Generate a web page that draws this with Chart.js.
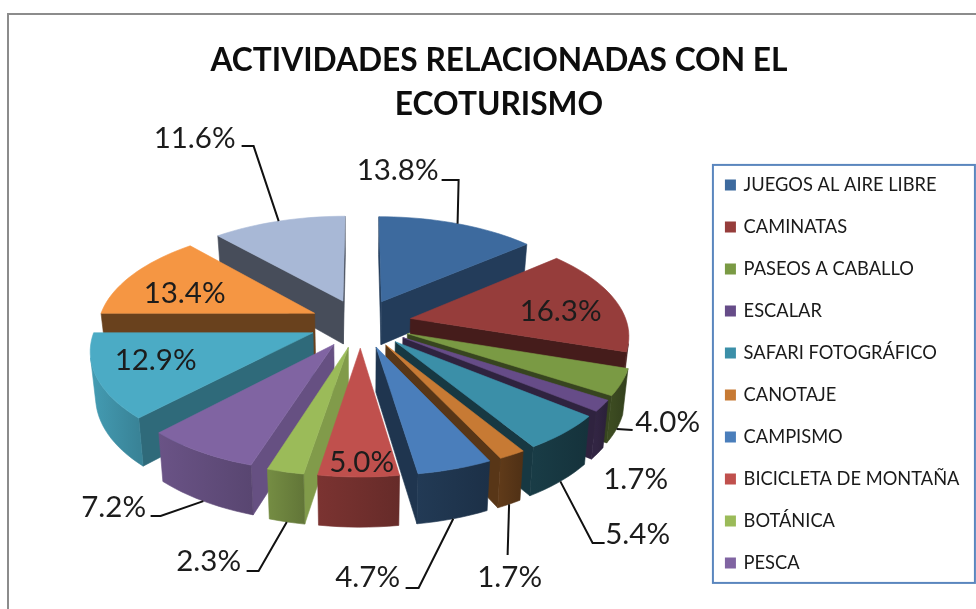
<!DOCTYPE html>
<html>
<head>
<meta charset="utf-8">
<script src="https://cdn.jsdelivr.net/npm/chart.js@4"></script>
<style>
  html, body { margin: 0; padding: 0; width: 976px; height: 609px; overflow: hidden; background: #fff; }
  #frame { position: absolute; left: 7px; top: 13px; width: 1100px; height: 700px; border: 2px solid #8c8c8c; }
  #grafico { position: absolute; left: 8px; top: 14px; }
</style>
</head>
<body>
<div id="frame"></div>
<canvas id="grafico" width="976" height="595"></canvas>
<script>
const categorias = ["JUEGOS AL AIRE LIBRE", "CAMINATAS", "PASEOS A CABALLO", "ESCALAR", "SAFARI FOTOGRÁFICO",
  "CANOTAJE", "CAMPISMO", "BICICLETA DE MONTAÑA", "BOTÁNICA", "PESCA", "ACAMPAR", "SENDERISMO", "OTROS"];
const valores = [13.8, 16.3, 4.0, 1.7, 5.4, 1.7, 4.7, 5.0, 2.3, 7.2, 12.9, 13.4, 11.6];
const colores = ["#3d6a9e", "#963d3b", "#7a9a44", "#664c88", "#3b8fa8", "#c77a34", "#4a7ebb",
  "#c0504d", "#9bbb59", "#8064a2", "#4babc5", "#f59643", "#a8b8d6"];

// cuanto se oscurece cada cara lateral
const sombraRadial = [.57, .46, .45, .46, .39, .44, .42, .6, .83, .8, .62, .43, .42];
const sombraExterior = [.57, .46, .46, .46, .39, .44, .42, .58, .68, .74, .8, .43, .42];

// vista 3D del pastel (px)
const vista = { radio: 216.5, alto: 102.7, perspectiva: .142, separacion: .236, fondo: 44, fondoV: 5, encoge: .02, dx: -5, dy: -51 };

// posicion de etiquetas respecto al centro del pastel; guia = codo y final de la linea
const etiquetas = [
  { x: 37, y: -153, guia: [[98, -143], [81, -143]] },
  { x: 200, y: -12 },
  { x: 307, y: 99, guia: [[272, 107]], abajo: true },
  { x: 275, y: 156 },
  { x: 277, y: 211, guia: [[232, 220], [244, 220]], abajo: true },
  { x: 149, y: 254, guia: [[147, 232]], abajo: true },
  { x: 7, y: 254, guia: [[58, 265], [45, 265]], abajo: true },
  { x: 1, y: 139 },
  { x: -152, y: 238, guia: [[-102, 248], [-114, 248]], abajo: true },
  { x: -247, y: 184, guia: [[-200, 193], [-210, 193]], abajo: true },
  { x: -205, y: 37 },
  { x: -176, y: -30 },
  { x: -166, y: -185, guia: [[-107, -177], [-119, -177]] }
];

function sombra(hex, f) {
  const n = parseInt(hex.slice(1), 16);
  const c = [n >> 16, (n >> 8) & 255, n & 255].map(v => Math.min(255, Math.round(v * f)));
  return `rgb(${c[0]},${c[1]},${c[2]})`;
}

function cuadro(ctx, pts, color) {
  ctx.beginPath();
  pts.forEach((p, i) => i ? ctx.lineTo(p[0], p[1]) : ctx.moveTo(p[0], p[1]));
  ctx.closePath();
  ctx.fillStyle = color;
  ctx.strokeStyle = color;
  ctx.lineWidth = .6;
  ctx.fill();
  ctx.stroke();
}

function area(pts) {
  let a = 0;
  pts.forEach((p, i) => {
    const q = pts[(i + 1) % pts.length];
    a += p[0] * q[1] - q[0] * p[1];
  });
  return a;
}

const pastel3d = {
  id: "pastel3d",
  beforeDatasetsDraw(chart) {
    const ctx = chart.ctx;
    const arcos = chart.getDatasetMeta(0).data;
    const cx = arcos[0].x + vista.dx;
    const cy = arcos[0].y + vista.dy;

    const proyectar = (u, v, w) => {
      const s = 1 / (1 - vista.perspectiva * v);
      return [
        cx + u * vista.radio * s * (1 - vista.encoge * w),
        cy + v * vista.alto * s + w * (vista.fondo + vista.fondoV * v)
      ];
    };

    const pared = (a, b) => [proyectar(a[0], a[1], 0), proyectar(b[0], b[1], 0), proyectar(b[0], b[1], 1), proyectar(a[0], a[1], 1)];

    const porciones = arcos.map((arco, i) => {
      const medio = (arco.startAngle + arco.endAngle) / 2;
      return { arco, i, medio, ox: vista.separacion * Math.cos(medio), oy: vista.separacion * Math.sin(medio) };
    });

    // de atras hacia adelante
    [...porciones].sort((a, b) => Math.sin(a.medio) - Math.sin(b.medio)).forEach(p => {
      const pasos = Math.max(4, Math.ceil((p.arco.endAngle - p.arco.startAngle) / .04));
      const borde = [];
      for (let k = 0; k <= pasos; k++) {
        const a = p.arco.startAngle + (p.arco.endAngle - p.arco.startAngle) * k / pasos;
        borde.push([p.ox + Math.cos(a), p.oy + Math.sin(a)]);
      }
      const vertice = [p.ox, p.oy];
      const oscuro = sombra(colores[p.i], sombraRadial[p.i]);

      [pared(vertice, borde[0]), pared(borde[pasos], vertice)].forEach(pts => {
        if (area(pts) < 0) cuadro(ctx, pts, oscuro);
      });

      // pared exterior en una sola pieza, con degradado horizontal suave
      const visibles = [];
      for (let k = 0; k < pasos; k++) {
        if (area(pared(borde[k], borde[k + 1])) < 0) {
          if (!visibles.length) visibles.push(borde[k]);
          visibles.push(borde[k + 1]);
        }
      }
      if (visibles.length) {
        const arriba = visibles.map(q => proyectar(q[0], q[1], 0));
        const abajo = visibles.map(q => proyectar(q[0], q[1], 1)).reverse();
        const xs = arriba.map(q => q[0]);
        const degradado = ctx.createLinearGradient(Math.min(...xs), 0, Math.max(...xs), 0);
        const lado = Math.cos(p.medio);
        degradado.addColorStop(0, sombra(colores[p.i], sombraExterior[p.i] * (1.1 - .04 * lado)));
        degradado.addColorStop(1, sombra(colores[p.i], sombraExterior[p.i] * (.92 - .04 * lado)));
        cuadro(ctx, [...arriba, ...abajo], degradado);
      }

      const tapa = [vertice, ...borde].map(q => proyectar(q[0], q[1], 0));
      cuadro(ctx, tapa, colores[p.i]);
    });

    // etiquetas y lineas guia
    ctx.font = "29.5px Lato";
    ctx.textAlign = "center";
    ctx.textBaseline = "middle";
    porciones.forEach(p => {
      const e = etiquetas[p.i];
      if (e.guia) {
        const q = proyectar(p.ox + Math.cos(p.medio), p.oy + Math.sin(p.medio), e.abajo ? 1 : 0);
        ctx.beginPath();
        ctx.moveTo(q[0], q[1]);
        e.guia.forEach(g => ctx.lineTo(cx + g[0], cy + g[1]));
        ctx.strokeStyle = "#111";
        ctx.lineWidth = 2;
        ctx.stroke();
      }
      ctx.fillStyle = "#1c1c1c";
      ctx.fillText(valores[p.i].toFixed(1) + "%", cx + e.x, cy + e.y);
    });
    return false;
  },
  afterDraw(chart) {
    const caja = chart.legend.legendHitBoxes;
    const ctx = chart.ctx;
    ctx.strokeStyle = "#5a86be";
    ctx.lineWidth = 2;
    ctx.strokeRect(caja[0].left - 13.5, caja[0].top - 11, 262, 418);
  }
};

new Chart(document.getElementById("grafico"), {
  type: "pie",
  data: {
    labels: categorias,
    datasets: [{ data: valores, backgroundColor: colores, borderWidth: 0 }]
  },
  options: {
    responsive: false,
    animation: false,
    layout: { padding: { left: 20.5, right: 14.5, bottom: 5 } },
    plugins: {
      tooltip: { enabled: false },
      title: {
        display: true,
        text: ["ACTIVIDADES RELACIONADAS CON EL", "ECOTURISMO"],
        color: "#0d0d0d",
        font: { family: "Lato", size: 31.7, weight: "bold", lineHeight: 1.39 },
        padding: { top: 25, bottom: 17 }
      },
      legend: {
        position: "right",
        fullSize: false,
        labels: {
          filter: item => item.index < 10,
          usePointStyle: true,
          pointStyle: "rect",
          boxWidth: 8,
          boxHeight: 11,
          padding: 23.7,
          color: "#1a1a1a",
          font: { family: "Lato", size: 18.3 }
        }
      }
    }
  },
  plugins: [pastel3d]
});
</script>
</body>
</html>
